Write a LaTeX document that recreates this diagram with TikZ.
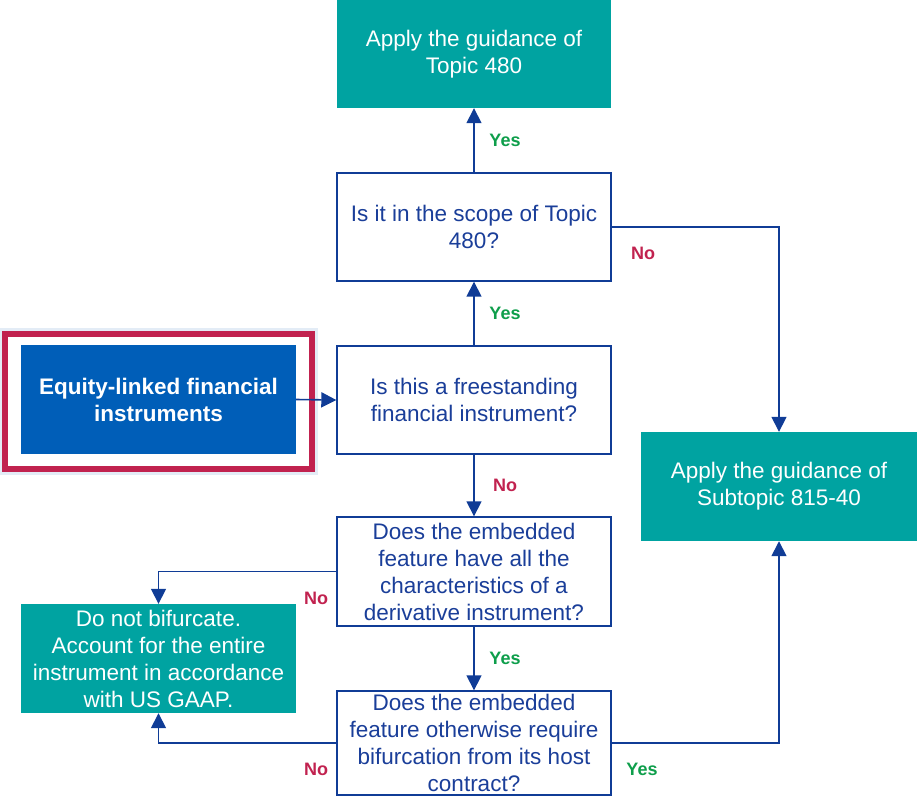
\documentclass[tikz,border=0pt]{standalone}
\usepackage{fontspec}
\setmainfont{Liberation Sans}
\usetikzlibrary{arrows.meta}
\definecolor{tealbox}{HTML}{00A3A1}
\definecolor{bluebox}{HTML}{005EB8}
\definecolor{linkblue}{HTML}{103C96}
\definecolor{qtext}{HTML}{1A3E99}
\definecolor{framered}{HTML}{C1224F}
\definecolor{yesgreen}{HTML}{0E9E4B}
\definecolor{glow}{HTML}{E3ECF6}
\begin{document}
\begin{tikzpicture}[x=1pt,y=-1pt,
  every node/.style={font=\fontsize{22.5}{27}\selectfont, align=center, inner sep=0pt},
  question/.style={draw=linkblue, line width=1.4pt, fill=white, text=qtext,
    minimum width=274pt, minimum height=108pt},
  outcome/.style={fill=tealbox, text=white, minimum width=275pt, minimum height=109pt},
  startbox/.style={fill=bluebox, text=white, font=\fontsize{22.5}{27}\selectfont\bfseries,
    minimum width=275pt, minimum height=109pt},
  link/.style={draw=linkblue, line width=1.6pt, -{Triangle[length=15pt,width=15pt]}},
  yeslbl/.style={text=yesgreen, font=\fontsize{18}{20}\selectfont\bfseries},
  nolbl/.style={text=framered, font=\fontsize{18}{20}\selectfont\bfseries}]
\useasboundingbox (0,0) rectangle (917,796);

% outcome boxes
\node[outcome, minimum width=274pt, minimum height=108pt] (topic) at (474,54)
  {Apply the guidance of\\Topic 480};
\node[outcome, minimum width=276pt] (sub) at (779,486.5)
  {Apply the guidance of\\Subtopic 815-40};
\node[outcome] (nobif) at (158.5,658.5)
  {Do not bifurcate.\\Account for the entire\\instrument in accordance\\with US GAAP.};

% starting point with its highlight frame and soft halo
\draw[glow, line width=3pt] (0.5,329.5) rectangle (316.5,473.5);
\node[startbox] (equity) at (158.5,399.5) {Equity-linked financial\\instruments};
\draw[framered, line width=6.5pt] (5,334) rectangle (312,469);

% question boxes
\node[question] (scope) at (474,227) {Is it in the scope of Topic\\480?};
\node[question] (free) at (474,400) {Is this a freestanding\\financial instrument?};
\node[question, minimum height=109pt] (embed) at (474,571.5)
  {Does the embedded\\feature have all the\\characteristics of a\\derivative instrument?};
\node[question, minimum height=104pt] (bifur) at (474,743)
  {Does the embedded\\feature otherwise require\\bifurcation from its host\\contract?};

% connectors
\draw[link] (equity.east) -- (free.west);
\draw[link] (free.north) -- (scope.south);
\draw[link] (scope.north) -- (topic.south);
\draw[link] (free.south) -- (embed.north);
\draw[link] (embed.south) -- (bifur.north);
\draw[link] (scope.east) -| (sub.north);
\draw[link] (bifur.east) -| (sub.south);
\draw[link] (embed.west) -| (nobif.north);
\draw[link] (bifur.west) -| (nobif.south);

% branch labels
\node[yeslbl] (yes1) at (505,140) {Yes};
\node[yeslbl] (yes2) at (505,313) {Yes};
\node[nolbl] (no1) at (643,253) {No};
\node[nolbl] (no2) at (505,485) {No};
\node[nolbl] (no3) at (316,598) {No};
\node[yeslbl] (yes3) at (505,658) {Yes};
\node[nolbl] (no4) at (316,769) {No};
\node[yeslbl] (yes4) at (642,769) {Yes};
\end{tikzpicture}
\end{document}
